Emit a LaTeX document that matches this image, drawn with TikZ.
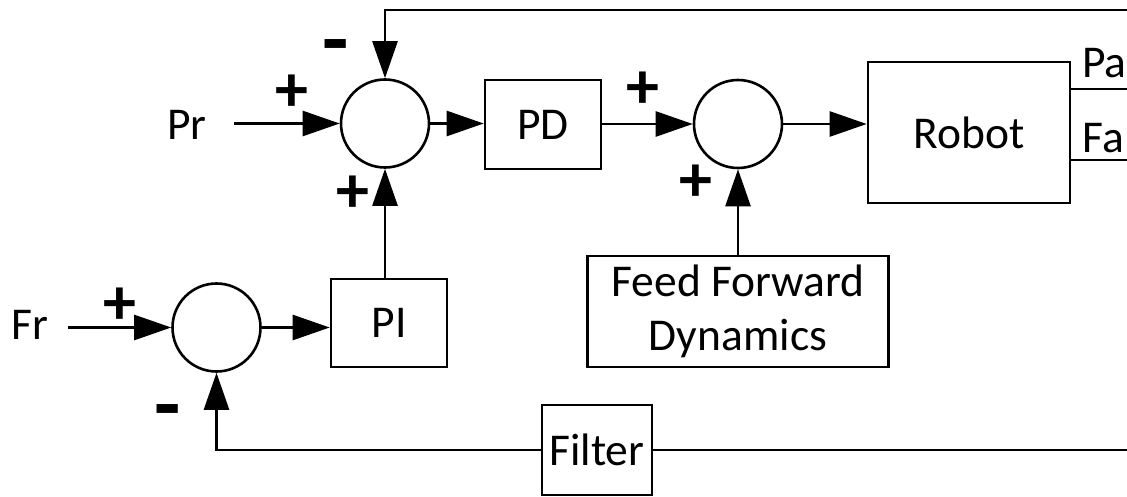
\documentclass[tikz,border=0pt]{standalone}
\usepackage{fontspec}
\setmainfont{Carlito}
\usetikzlibrary{arrows.meta,calc}
\begin{document}
\begin{tikzpicture}[x=1pt,y=-1pt,
  line width=2.6pt,
  sumnode/.style={draw,circle,minimum size=88pt,inner sep=0pt},
  blockbox/.style={draw,rectangle,inner sep=0pt,align=center,font=\fontsize{45.5}{54}\selectfont},
  lbl/.style={inner sep=0pt,font=\fontsize{45.5}{54}\selectfont},
  sgn/.style={inner sep=0pt,font=\fontsize{66}{66}\selectfont\bfseries},
  msgn/.style={inner sep=0pt,font=\fontsize{86}{86}\selectfont\bfseries},
  arr/.style={-{Triangle[length=37pt,width=25pt]}}]
\useasboundingbox (0,0) rectangle (1127,497);
% summing junctions
\node[sumnode] (s1) at (385,123.5) {};
\node[sumnode] (s2) at (738,124) {};
\node[sumnode] (s3) at (216.5,327.5) {};
% blocks
\node[blockbox,minimum width=116pt,minimum height=89pt] (pd) at (543,124.5) {PD};
\node[blockbox,minimum width=202pt,minimum height=141pt] (robot) at (969,132.5) {Robot};
\node[blockbox,minimum width=301pt,minimum height=111pt] (ff) at (738,311.5) {Feed Forward\\Dynamics};
\node[blockbox,minimum width=116pt,minimum height=88pt] (pi) at (389,323) {PI};
\node[blockbox,minimum width=110pt,minimum height=90pt] (filter) at (597,450) {Filter};
% labels
\node[lbl] (pr) at (187,125) {Pr};
\node[lbl] (fr) at (30,325) {Fr};
\node[lbl,anchor=west] (pa) at (1081,63) {Pa};
\node[lbl,anchor=west] (fa) at (1081,138) {Fa};
% signs
\node[sgn] (p1) at (291.5,93.5) {+};
\node[sgn] (p2) at (353,194) {+};
\node[sgn] (p3) at (643,90) {+};
\node[sgn] (p4) at (696,183) {+};
\node[sgn] (p5) at (120,306) {+};
\node[msgn] (m1) at (335.5,54) {-};
\node[msgn] (m2) at (168,419) {-};
% free ends
\coordinate (prs) at (234,123.5);
\coordinate (frs) at (68,327.5);
\coordinate (top) at (1127,10);
\coordinate (bot) at (1127,450);
\coordinate (paend) at (1127,89);
\coordinate (faend) at (1127,160);
% connectors
\draw[arr] (prs) -- (s1.west);
\draw[arr] (s1.east) -- (s1.east -| pd.west);
\draw[arr] (pd.east |- s2.west) -- (s2.west);
\draw[arr] (s2.east) -- (s2.east -| robot.west);
\draw[arr] (ff) -- (s2);
\draw[arr] (pi.north -| s1.south) -- (s1.south);
\draw[arr] (top) -| (s1.north);
\draw[arr] (frs) -- (s3.west);
\draw[arr] (s3.east) -- (s3.east -| pi.west);
\draw (bot) -- (filter.east);
\draw[arr] (filter.west) -| (s3.south);
\draw (robot.east |- paend) -- (paend);
\draw (robot.east |- faend) -- (faend);
\end{tikzpicture}
\end{document}
